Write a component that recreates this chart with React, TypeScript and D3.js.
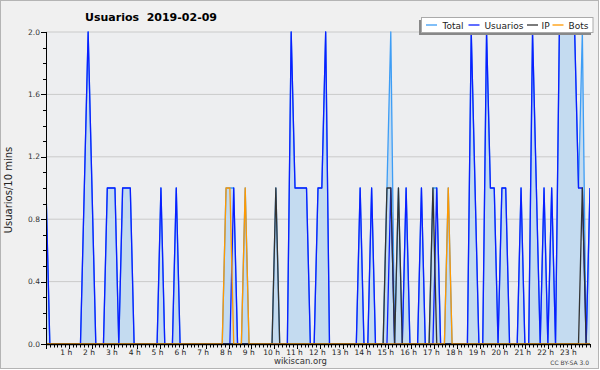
import React from 'react';
import * as d3 from 'd3';

// 10-minute buckets, 2019-02-09 (00:00 .. 23:40)
const total = [
  1, 0, 0, 0, 0, 0, 0, 0, 0, 0, 1, 2,
  1, 0, 0, 0, 1, 1, 1, 0, 1, 1, 1, 0,
  0, 0, 0, 0, 0, 0, 1, 0, 0, 0, 1, 0,
  0, 0, 0, 0, 0, 0, 0, 0, 0, 0, 0, 1,
  1, 1, 0, 0, 1, 0, 0, 0, 0, 0, 0, 0,
  1, 0, 0, 0, 2, 1, 1, 1, 1, 0, 0, 1,
  1, 2, 0, 0, 0, 0, 0, 0, 0, 0, 1, 0,
  0, 1, 0, 0, 0, 1, 2, 0, 1, 0, 1, 0,
  0, 0, 1, 0, 0, 1, 1, 0, 0, 1, 0, 0,
  0, 0, 0, 2, 1, 0, 0, 2, 1, 1, 0, 1,
  1, 0, 0, 0, 1, 0, 0, 2, 1, 0, 1, 0,
  1, 0, 2, 2, 2, 2, 2, 1, 2, 0, 1,
];
const usuarios = [
  1, 0, 0, 0, 0, 0, 0, 0, 0, 0, 1, 2,
  1, 0, 0, 0, 1, 1, 1, 0, 1, 1, 1, 0,
  0, 0, 0, 0, 0, 0, 1, 0, 0, 0, 1, 0,
  0, 0, 0, 0, 0, 0, 0, 0, 0, 0, 0, 0,
  0, 1, 0, 0, 0, 0, 0, 0, 0, 0, 0, 0,
  0, 0, 0, 0, 2, 1, 1, 1, 1, 0, 0, 1,
  1, 2, 0, 0, 0, 0, 0, 0, 0, 0, 1, 0,
  0, 1, 0, 0, 0, 0, 1, 0, 0, 0, 1, 0,
  0, 0, 1, 0, 0, 0, 1, 0, 0, 0, 0, 0,
  0, 0, 0, 2, 1, 0, 0, 2, 1, 1, 0, 1,
  1, 0, 0, 0, 1, 0, 0, 2, 1, 0, 1, 0,
  1, 0, 2, 2, 2, 2, 2, 1, 1, 0, 1,
];
const ip = [
  0, 0, 0, 0, 0, 0, 0, 0, 0, 0, 0, 0,
  0, 0, 0, 0, 0, 0, 0, 0, 0, 0, 0, 0,
  0, 0, 0, 0, 0, 0, 0, 0, 0, 0, 0, 0,
  0, 0, 0, 0, 0, 0, 0, 0, 0, 0, 0, 0,
  0, 0, 0, 0, 0, 0, 0, 0, 0, 0, 0, 0,
  1, 0, 0, 0, 0, 0, 0, 0, 0, 0, 0, 0,
  0, 0, 0, 0, 0, 0, 0, 0, 0, 0, 0, 0,
  0, 0, 0, 0, 0, 1, 1, 0, 1, 0, 0, 0,
  0, 0, 0, 0, 0, 1, 0, 0, 0, 0, 0, 0,
  0, 0, 0, 0, 0, 0, 0, 0, 0, 0, 0, 0,
  0, 0, 0, 0, 0, 0, 0, 0, 0, 0, 0, 0,
  0, 0, 0, 0, 0, 0, 0, 0, 1, 0, 0,
];
const bots = [
  0, 0, 0, 0, 0, 0, 0, 0, 0, 0, 0, 0,
  0, 0, 0, 0, 0, 0, 0, 0, 0, 0, 0, 0,
  0, 0, 0, 0, 0, 0, 0, 0, 0, 0, 0, 0,
  0, 0, 0, 0, 0, 0, 0, 0, 0, 0, 0, 1,
  1, 0, 0, 0, 1, 0, 0, 0, 0, 0, 0, 0,
  0, 0, 0, 0, 0, 0, 0, 0, 0, 0, 0, 0,
  0, 0, 0, 0, 0, 0, 0, 0, 0, 0, 0, 0,
  0, 0, 0, 0, 0, 0, 0, 0, 0, 0, 0, 0,
  0, 0, 0, 0, 0, 0, 0, 0, 0, 1, 0, 0,
  0, 0, 0, 0, 0, 0, 0, 0, 0, 0, 0, 0,
  0, 0, 0, 0, 0, 0, 0, 0, 0, 0, 0, 0,
  0, 0, 0, 0, 0, 0, 0, 0, 0, 0, 0,
];
const hourLabels = d3.range(1, 24).map(h => `${h} h`);
const yTicks = [0, 0.4, 0.8, 1.2, 1.6, 2.0];

const series = [
  { name: 'Total', data: total, color: '#3d9df5' },
  { name: 'Usuarios', data: usuarios, color: '#0a1eff' },
  { name: 'IP', data: ip, color: '#333333' },
  { name: 'Bots', data: bots, color: '#ff9900' },
];

const W = 600;
const H = 370;
const margin = { top: 32, right: 10, bottom: 26, left: 46 };
const font = 'DejaVu Sans, sans-serif';

export default function App() {
  const x0 = margin.left;
  const x1 = W - margin.right;
  const y0 = H - margin.bottom;
  const yTop = margin.top;

  const x = d3.scaleLinear().domain([0, total.length - 1]).range([x0, x1]);
  const xTicks = d3.scaleLinear().domain([0, 143]).range([x0, x1]);
  const y = d3.scaleLinear().domain([0, 2]).range([y0, yTop]);

  const line = d3
    .line<number>()
    .x((d, i) => x(i))
    .y(d => y(d));
  const area = d3
    .area<number>()
    .x((d, i) => x(i))
    .y0(y0)
    .y1(d => y(d));

  const minorY = d3.range(0, 21).map(v => v / 10);

  return (
    <svg width={W} height={H} style={{ display: 'block' }}>
      <style>{`body{margin:0}`}</style>
      <defs>
        <clipPath id="plot">
          <rect x={x0} y={yTop - 2} width={x1 - x0} height={y0 - yTop + 2} />
        </clipPath>
      </defs>
      <rect x={0.5} y={0.5} width={W - 2} height={H - 2} fill="#f0f0f0" stroke="#b4b4b4" />
      <rect x={x0} y={yTop} width={x1 - x0} height={y0 - yTop} fill="#edeef0" />

      {yTicks.map(t => (
        <line key={t} x1={x0} x2={x1} y1={y(t)} y2={y(t)} stroke="#cacaca" />
      ))}

      <g clipPath="url(#plot)">
        <path d={area(total) as string} fill="#c4dbf0" />
        {series.map(s => (
          <path
            key={s.name}
            d={line(s.data) as string}
            fill="none"
            stroke={s.color}
            strokeWidth={1.3}
            strokeLinejoin="round"
          />
        ))}
      </g>

      {/* y axis */}
      <line x1={x0 + 0.5} x2={x0 + 0.5} y1={yTop} y2={y0} stroke="#000" />
      {minorY.map(v => (
        <line
          key={v}
          x1={x0 - (Math.round(v * 10) % 4 === 0 ? 5 : 3)}
          x2={x0}
          y1={Math.round(y(v)) + 0.5}
          y2={Math.round(y(v)) + 0.5}
          stroke="#000"
        />
      ))}
      {yTicks.map(t => (
        <text key={t} x={x0 - 6} y={y(t) + 2.5} fontSize={7.5} fontFamily={font} fill="#333" textAnchor="end">
          {t.toFixed(1)}
        </text>
      ))}

      {/* x axis */}
      <line x1={x0} x2={x1} y1={y0 + 0.5} y2={y0 + 0.5} stroke="#000" strokeWidth={1.5} />
      {d3.range(0, 144).map(i => (
        <line
          key={i}
          x1={Math.round(xTicks(i)) + 0.5}
          x2={Math.round(xTicks(i)) + 0.5}
          y1={y0}
          y2={y0 + (i % 6 === 0 ? 5 : 3.5)}
          stroke="#000"
        />
      ))}
      {hourLabels.map((l, k) => (
        <text
          key={l}
          x={xTicks((k + 1) * 6) - 2.6}
          y={y0 + 11}
          fontSize={7.5}
          fontFamily={font}
          fill="#222"
          textAnchor="middle"
        >
          {l}
        </text>
      ))}

      <text x={151} y={21} fontSize={11} fontWeight="bold" fontFamily={font} textAnchor="middle" style={{ whiteSpace: 'pre' }}>
        {'Usuarios  2019-02-09'}
      </text>
      <text
        transform={`translate(12, ${(yTop + y0) / 2 + 2}) rotate(-90)`}
        fontSize={10}
        fontFamily={font}
        fill="#222"
        textAnchor="middle"
      >
        Usuarios/10 mins
      </text>

      {/* legend */}
      <rect x={419} y={20} width={172} height={15} fill="#888" />
      <rect x={421.5} y={17.5} width={171.5} height={15} fill="#fff" stroke="#aaa" />
      {[
        [426, 442.5],
        [468.5, 484.5],
        [527, 541.5],
        [552.5, 568.5],
      ].map(([lx, tx], k) => (
        <g key={series[k].name}>
          <line x1={lx} x2={lx + 11} y1={25} y2={25} stroke={series[k].color} strokeWidth={1.3} />
          <text x={tx} y={28.5} fontSize={9} fontFamily={font} fill="#222">
            {series[k].name}
          </text>
        </g>
      ))}

      <text x={300.5} y={364} fontSize={8.5} fontFamily={font} fill="#333" textAnchor="middle">
        wikiscan.org
      </text>
      <text x={589} y={365} fontSize={6} fontFamily={font} fill="#444" textAnchor="end">
        CC BY-SA 3.0
      </text>
    </svg>
  );
}
